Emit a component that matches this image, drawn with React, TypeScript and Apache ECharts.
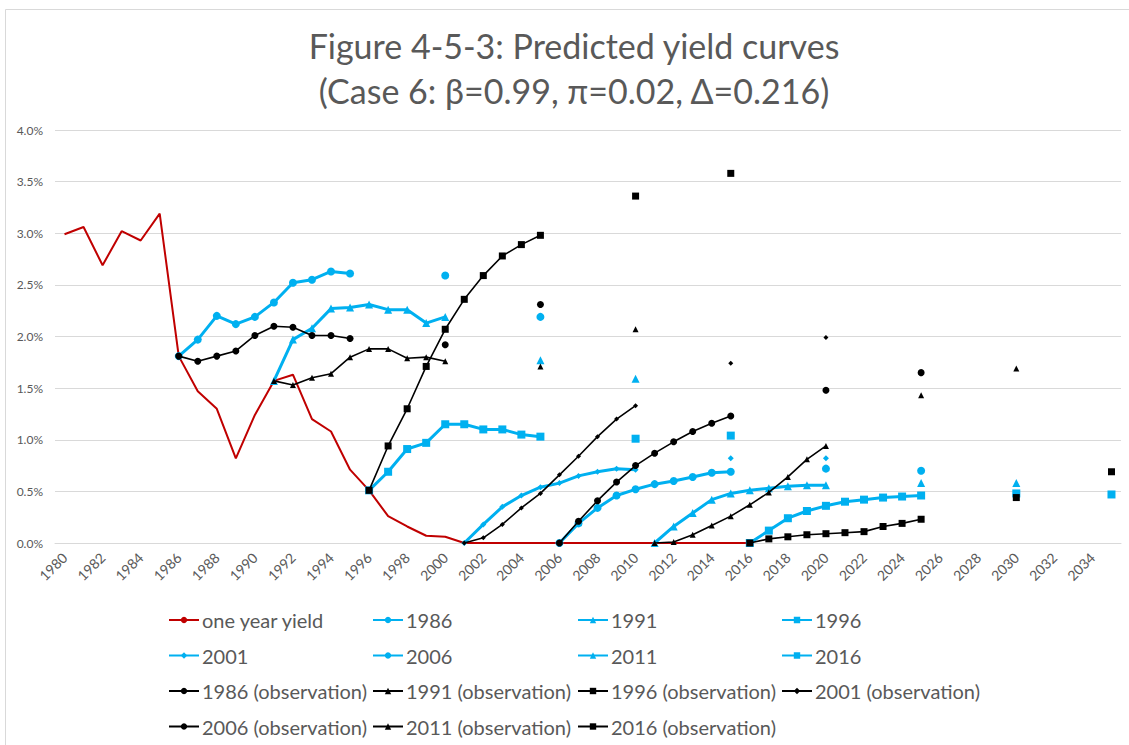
import React, { useEffect, useRef } from "react";
import * as echarts from "echarts";

// ---------- data ----------
const years: string[] = [];
for (let y = 1980; y <= 2035; y++) years.push(String(y));

const yTicks = [0, 0.5, 1.0, 1.5, 2.0, 2.5, 3.0, 3.5, 4.0];

const titleLines = ["Figure 4-5-3: Predicted yield curves", "(Case 6: β=0.99, π=0.02, Δ=0.216)"];

const oneYearStart = 1980;
const oneYearYield = [
  2.99, 3.06, 2.69, 3.02, 2.93, 3.19, 1.81, 1.47, 1.3, 0.82, 1.24, 1.57, 1.63, 1.2,
  1.08, 0.71, 0.51, 0.26, 0.16, 0.07, 0.06, 0, 0, 0, 0, 0, 0, 0, 0, 0, 0, 0, 0, 0, 0, 0, 0,
];

// predicted curves: maturities 1..10 then 15 and 20 years
const pred1986 = [1.81, 1.97, 2.2, 2.12, 2.19, 2.33, 2.52, 2.55, 2.63, 2.61];
const pred1986Long = [2.59, 2.19];
const pred1991 = [1.57, 1.97, 2.08, 2.27, 2.28, 2.31, 2.26, 2.26, 2.13, 2.19];
const pred1991Long = [1.77, 1.59];
const pred1996 = [0.51, 0.69, 0.91, 0.97, 1.15, 1.15, 1.1, 1.1, 1.05, 1.03];
const pred1996Long = [1.01, 1.04];
const pred2001 = [0, 0.18, 0.35, 0.46, 0.54, 0.58, 0.65, 0.69, 0.72, 0.71];
const pred2001Long = [0.82, 0.82];
const pred2006 = [0, 0.19, 0.34, 0.46, 0.52, 0.57, 0.6, 0.64, 0.68, 0.69];
const pred2006Long = [0.72, 0.7];
const pred2011 = [0, 0.16, 0.29, 0.42, 0.48, 0.51, 0.53, 0.55, 0.56, 0.56];
const pred2011Long = [0.58, 0.58];
const pred2016 = [0, 0.12, 0.24, 0.31, 0.36, 0.4, 0.42, 0.44, 0.45, 0.46];
const pred2016Long = [0.48, 0.47];

// observations
const obs1986 = [1.81, 1.76, 1.81, 1.86, 2.01, 2.1, 2.09, 2.01, 2.01, 1.98];
const obs1986Long = [1.92, 2.31];
const obs1991 = [1.57, 1.53, 1.6, 1.64, 1.8, 1.88, 1.88, 1.79, 1.8, 1.76];
const obs1991Long = [1.71, 2.07];
const obs1996 = [0.51, 0.94, 1.3, 1.71, 2.07, 2.36, 2.59, 2.78, 2.89, 2.98];
const obs1996Long = [3.36, 3.58];
const obs2001 = [0, 0.05, 0.18, 0.34, 0.48, 0.66, 0.84, 1.03, 1.2, 1.33];
const obs2001Long = [1.74, 1.99];
const obs2006 = [0, 0.21, 0.41, 0.59, 0.75, 0.87, 0.98, 1.08, 1.16, 1.23];
const obs2006Long = [1.48, 1.65];
const obs2011 = [0, 0.01, 0.08, 0.17, 0.26, 0.37, 0.49, 0.64, 0.81, 0.94];
const obs2011Long = [1.43, 1.69];
const obs2016 = [0, 0.04, 0.06, 0.08, 0.09, 0.1, 0.11, 0.16, 0.19, 0.23];
const obs2016Long = [0.44, 0.69];

const longOffsets = [14, 19];

const BLUE = "#00B0F0";
const BLACK = "#000000";
const RED = "#C00000";
const GRAY_TEXT = "#595959";
const FONT = "Lato, 'Open Sans', sans-serif";

function buildCurve(start: number, curve: number[], longVals: number[]) {
  const arr: (number | null)[] = years.map(() => null);
  const i0 = start - 1980;
  curve.forEach((v, i) => (arr[i0 + i] = v));
  longVals.forEach((v, i) => {
    const idx = i0 + longOffsets[i];
    if (idx < arr.length) arr[idx] = v;
  });
  return arr;
}

function buildOneYear() {
  const arr: (number | null)[] = years.map(() => null);
  oneYearYield.forEach((v, i) => (arr[oneYearStart - 1980 + i] = v));
  return arr;
}

export default function App() {
  const ref = useRef<HTMLDivElement>(null);
  useEffect(() => {
    if (!ref.current) return;
    const chart = echarts.init(ref.current, undefined, { renderer: "svg" });

    const predDefs = [
      { name: "1986", start: 1986, c: pred1986, l: pred1986Long, sym: "circle", size: 8 },
      { name: "1991", start: 1991, c: pred1991, l: pred1991Long, sym: "triangle", size: 8 },
      { name: "1996", start: 1996, c: pred1996, l: pred1996Long, sym: "rect", size: 8 },
      { name: "2001", start: 2001, c: pred2001, l: pred2001Long, sym: "diamond", size: 6 },
      { name: "2006", start: 2006, c: pred2006, l: pred2006Long, sym: "circle", size: 8 },
      { name: "2011", start: 2011, c: pred2011, l: pred2011Long, sym: "triangle", size: 8 },
      { name: "2016", start: 2016, c: pred2016, l: pred2016Long, sym: "rect", size: 8 },
    ];
    const obsDefs = [
      { name: "1986 (observation)", start: 1986, c: obs1986, l: obs1986Long, sym: "circle", size: 7 },
      { name: "1991 (observation)", start: 1991, c: obs1991, l: obs1991Long, sym: "triangle", size: 6 },
      { name: "1996 (observation)", start: 1996, c: obs1996, l: obs1996Long, sym: "rect", size: 7 },
      { name: "2001 (observation)", start: 2001, c: obs2001, l: obs2001Long, sym: "diamond", size: 5 },
      { name: "2006 (observation)", start: 2006, c: obs2006, l: obs2006Long, sym: "circle", size: 7 },
      { name: "2011 (observation)", start: 2011, c: obs2011, l: obs2011Long, sym: "triangle", size: 6 },
      { name: "2016 (observation)", start: 2016, c: obs2016, l: obs2016Long, sym: "rect", size: 7 },
    ];

    const series: any[] = [
      {
        name: "one year yield",
        type: "line",
        data: buildOneYear(),
        showSymbol: false,
        symbol: "none",
        lineStyle: { color: RED, width: 2 },
        itemStyle: { color: RED },
        z: 1,
      },
      ...predDefs.map((d) => ({
        name: d.name,
        type: "line",
        data: buildCurve(d.start, d.c, d.l),
        symbol: d.sym,
        symbolSize: d.size,
        showAllSymbol: true,
        lineStyle: { color: BLUE, width: 3 },
        itemStyle: { color: BLUE, borderWidth: 0 },
        z: 2,
      })),
      ...obsDefs.map((d) => ({
        name: d.name,
        type: "line",
        data: buildCurve(d.start, d.c, d.l),
        symbol: d.sym,
        symbolSize: d.size,
        showAllSymbol: true,
        lineStyle: { color: BLACK, width: 1.6 },
        itemStyle: { color: BLACK, borderWidth: 0 },
        z: 3,
      })),
    ];

    const legendCols = [
      ["one year yield", "2001", "1986 (observation)", "2006 (observation)"],
      ["1986", "2006", "1991 (observation)", "2011 (observation)"],
      ["1991", "2011", "1996 (observation)", "2016 (observation)"],
      ["1996", "2016", "2001 (observation)"],
    ];
    const colLeft = [168, 372, 577, 781];

    const legends = legendCols.map((col, i) => ({
      data: col,
      orient: "vertical",
      left: colLeft[i],
      top: 609,
      itemWidth: 30,
      itemHeight: 8,
      itemGap: 13.5,
      selectedMode: false,
      textStyle: {
        color: GRAY_TEXT,
        fontSize: 20,
        fontFamily: FONT,
        lineHeight: 22,
        padding: [0, 0, 0, -2],
      },
      padding: 0,
    }));

    chart.setOption({
      animation: false,
      backgroundColor: "#ffffff",
      graphic: [
        {
          type: "rect",
          shape: { x: 5.5, y: 9.5, width: 1200, height: 800 },
          style: { fill: "none", stroke: "#d9d9d9", lineWidth: 1 },
          z: -10,
          silent: true,
        },
        ...titleLines.map((t, i) => ({
          type: "text",
          x: 574,
          y: 45 + i * 45,
          silent: true,
          style: {
            text: t,
            fill: GRAY_TEXT,
            font: `normal 34px ${FONT}`,
            textAlign: "center",
            textVerticalAlign: "middle",
          },
        })),
      ],
      legend: legends,
      grid: { left: 55, right: 8, top: 130, bottom: 202 },
      xAxis: {
        type: "category",
        data: years,
        boundaryGap: true,
        axisLine: { lineStyle: { color: "#d9d9d9", width: 1 } },
        axisTick: { show: false },
        axisLabel: {
          interval: 1,
          rotate: 45,
          color: GRAY_TEXT,
          fontSize: 14,
          fontFamily: FONT,
          margin: 12,
        },
      },
      yAxis: {
        type: "value",
        min: 0,
        max: 4.0,
        interval: 0.5,
        axisLine: { show: false },
        axisTick: { show: false },
        splitLine: { lineStyle: { color: "#d9d9d9", width: 1 } },
        axisLabel: {
          color: GRAY_TEXT,
          fontSize: 12,
          fontFamily: FONT,
          margin: 12,
          formatter: (v: number) => {
            const t = yTicks.find((x) => Math.abs(x - v) < 1e-9);
            return (t !== undefined ? t : v).toFixed(1) + "%";
          },
        },
      },
      series,
    });

    return () => chart.dispose();
  }, []);

  return (
    <div
      ref={ref}
      style={{ position: "fixed", left: 0, top: 0, width: 1129, height: 745 }}
    />
  );
}
